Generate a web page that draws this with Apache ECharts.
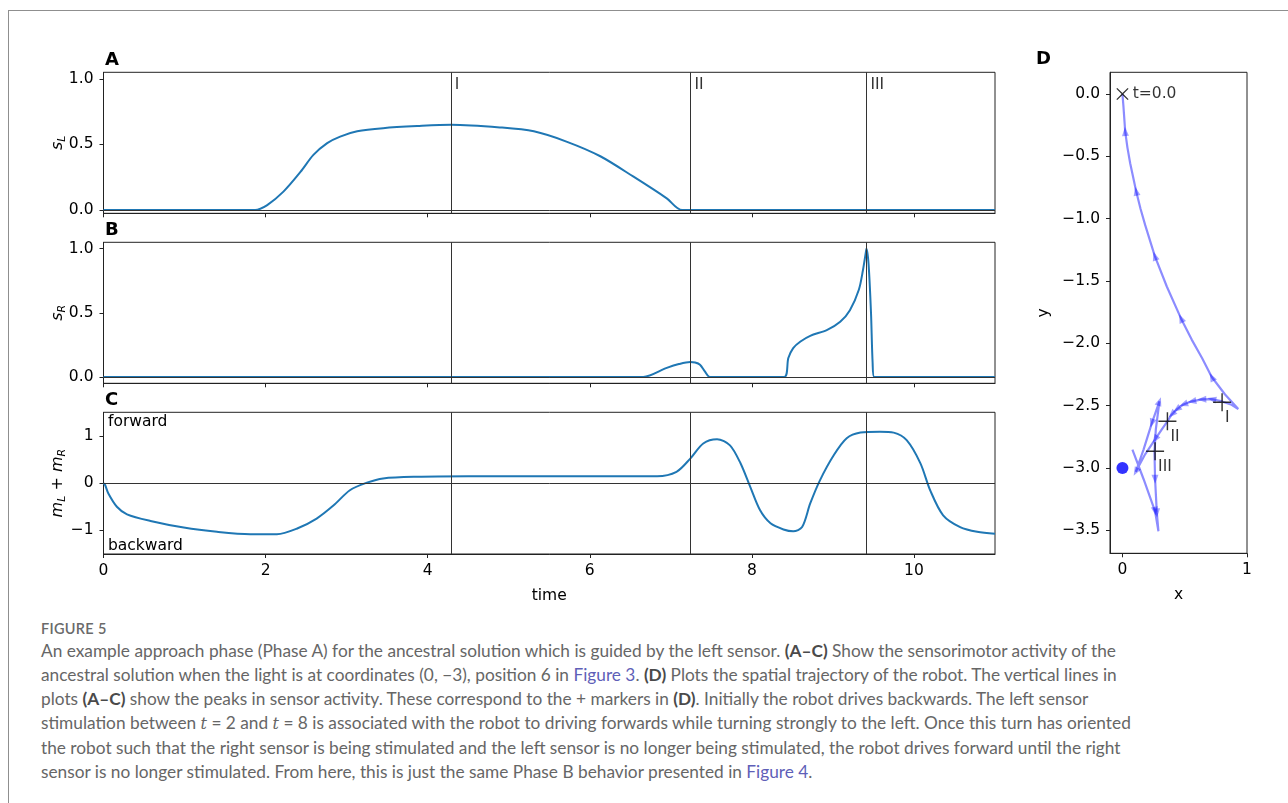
<!DOCTYPE html>
<html>
<head>
<meta charset="utf-8">
<title>Figure 5 – approach phase</title>
<script src="https://cdn.jsdelivr.net/npm/echarts@6/dist/echarts.min.js"></script>
<style>
  html, body { margin: 0; padding: 0; background: #fff; }
  #wrap { position: relative; width: 1288px; height: 803px; overflow: hidden; }
  #frame { position: absolute; left: 8px; top: 10px; width: 1300px; height: 820px;
           border-left: 1.5px solid #8f8f8f; border-top: 1.5px solid #8f8f8f; }
  #chart { position: absolute; left: 0; top: 0; width: 1288px; height: 612px; }
  #caption { position: absolute; left: 41px; top: 618px; font-family: Lato, "Open Sans", sans-serif;
             color: #666; white-space: nowrap; }
  #caption .fig { font-size: 14.5px; line-height: 21px; font-weight: 600; color: #6a6a6a; letter-spacing: 0.3px; }
  #caption .ln { font-size: 17.5px; line-height: 24px; }
  #caption b { color: #4a4a4a; font-weight: 700; }
  #caption .ref { color: #5f5fb8; }
  #caption i { font-family: "DejaVu Serif", serif; font-size: 0.92em; }
</style>
</head>
<body>
<div id="wrap">
  <div id="frame"></div>
  <div id="chart"></div>
  <div id="caption">
    <div class="fig">FIGURE 5</div>
    <div class="ln">An example approach phase (Phase A) for the ancestral solution which is guided by the left sensor. <b>(A–C)</b> Show the sensorimotor activity of the</div>
    <div class="ln">ancestral solution when the light is at coordinates (0, −3), position 6 in <span class="ref">Figure 3</span>. <b>(D)</b> Plots the spatial trajectory of the robot. The vertical lines in</div>
    <div class="ln">plots <b>(A–C)</b> show the peaks in sensor activity. These correspond to the + markers in <b>(D)</b>. Initially the robot drives backwards. The left sensor</div>
    <div class="ln">stimulation between <i>t</i> = 2 and <i>t</i> = 8 is associated with the robot to driving forwards while turning strongly to the left. Once this turn has oriented</div>
    <div class="ln">the robot such that the right sensor is being stimulated and the left sensor is no longer being stimulated, the robot drives forward until the right</div>
    <div class="ln">sensor is no longer stimulated. From here, this is just the same Phase B behavior presented in <span class="ref">Figure 4</span>.</div>
  </div>
</div>
<script>
// ---- sensor / motor time series ----
const timeA = [0, 1.87, 2.02, 2.22, 2.43, 2.59, 2.76, 2.92, 3.13, 3.45, 3.87, 4.29, 4.89, 5.31, 5.72, 6.13, 6.54, 6.95, 7.14, 11];
const leftSensor = [0, 0, 0.038, 0.14, 0.29, 0.42, 0.51, 0.56, 0.60, 0.624, 0.64, 0.65, 0.63, 0.60, 0.52, 0.41, 0.254, 0.089, 0, 0];

const timeB = [0, 6.66, 6.95, 7.10, 7.24, 7.30, 7.36, 7.42, 7.48, 8.40, 8.45, 8.51, 8.60, 8.72, 8.93, 9.09, 9.21, 9.32, 9.37, 9.41, 9.414, 9.44, 9.47, 9.49, 9.51, 11];
const rightSensor = [0, 0, 0.07, 0.10, 0.116, 0.112, 0.095, 0.043, 0, 0, 0.147, 0.225, 0.276, 0.32, 0.367, 0.43, 0.52, 0.68, 0.83, 0.987, 1.0, 0.88, 0.50, 0.11, 0, 0];

const timeC = [0, 0.02, 0.06, 0.165, 0.29, 0.58, 0.99, 1.40, 1.81, 2.14, 2.39, 2.63, 2.84, 3.04, 3.25, 3.45, 3.87, 4.5, 6.83, 7.07, 7.24, 7.40, 7.57, 7.73, 7.86, 7.98, 8.10, 8.23, 8.39, 8.51, 8.62, 8.72, 8.84, 9.01, 9.17, 9.34, 9.58, 9.75, 9.91, 10.08, 10.20, 10.36, 10.57, 10.78, 11.0];
const motorSum = [0, -0.04, -0.22, -0.50, -0.66, -0.80, -0.94, -1.03, -1.08, -1.08, -0.96, -0.75, -0.47, -0.15, 0.01, 0.10, 0.135, 0.145, 0.148, 0.24, 0.52, 0.84, 0.93, 0.80, 0.42, -0.08, -0.57, -0.85, -0.98, -1.02, -0.93, -0.43, 0.06, 0.59, 0.95, 1.07, 1.09, 1.07, 0.91, 0.42, -0.15, -0.68, -0.93, -1.03, -1.07];

// times of the sensor peaks and their names
const peakTimes = [4.286, 7.243, 9.414];
const peakNames = ['I', 'II', 'III'];

// ---- spatial trajectory ----
const trajX = [0, 0.008, 0.022, 0.04, 0.062, 0.11, 0.145, 0.182, 0.26, 0.356, 0.47, 0.556, 0.64, 0.717, 0.824, 0.93,
               0.87, 0.80, 0.717, 0.637, 0.557, 0.49, 0.436, 0.396, 0.361, 0.316, 0.262, 0.182, 0.107,
               0.17, 0.236, 0.297,
               0.268, 0.257, 0.262, 0.276, 0.289,
               0.262, 0.17, 0.08];
const trajY = [0, -0.10, -0.30, -0.43, -0.555, -0.78, -0.92, -1.05, -1.30, -1.544, -1.80, -1.97, -2.12, -2.27, -2.41, -2.527,
               -2.49, -2.466, -2.447, -2.45, -2.465, -2.49, -2.53, -2.57, -2.625, -2.69, -2.77, -2.89, -3.03,
               -2.85, -2.64, -2.466,
               -2.69, -2.866, -3.09, -3.36, -3.507,
               -3.347, -3.09, -2.853];
// heading arrows: trajectory index and drive sign (-1 = driving backwards)
const arrowIdx  = [2, 5, 8, 10, 13, 18, 19, 20, 21, 22, 23, 26, 28, 30, 31, 34, 35, 37];
const arrowSign = [-1, -1, -1, -1, -1, 1, 1, 1, 1, 1, 1, 1, 1, -1, 1, 1, 1, -1];

// light source and peak positions on the trajectory
const lightPos = [0, -3];
const peakX = [0.80, 0.361, 0.262];
const peakY = [-2.473, -2.625, -2.866];

// axis ticks
const timeTicks = [0, 2, 4, 6, 8, 10];
const sensorTicks = [0, 0.5, 1.0];
const motorTicks = [-1, 0, 1];
const trajXTicks = [0, 1];
const trajYTicks = [0, -0.5, -1.0, -1.5, -2.0, -2.5, -3.0, -3.5];

// ---- helpers ----
const FONT = 'DejaVu Sans';
const FS = 15.5;
const BLUE = '#1f77b4';
const TRAJ = 'rgba(0, 0, 255, 0.45)';
const minus = s => String(s).replace('-', '\u2212');
const zip = (a, b) => a.map((v, i) => [v, b[i]]);
const PLUS = 'path://M9.2,0h1.6v9.2h9.2v1.6h-9.2v9.2h-1.6v-9.2h-9.2v-1.6h9.2z';

const mathRich = {
  i: { fontFamily: FONT, fontStyle: 'italic', fontSize: 16, lineHeight: 20, color: '#000' },
  sub: { fontFamily: FONT, fontStyle: 'italic', fontSize: 11, lineHeight: 12, verticalAlign: 'bottom', color: '#000' },
  t: { fontFamily: FONT, fontSize: 16, lineHeight: 20, color: '#000' }
};

function timeAxis(gridIndex, withLabels) {
  return {
    type: 'value', gridIndex, min: 0, max: 11,
    name: withLabels ? 'time' : '', nameLocation: 'middle', nameGap: 34, nameMoveOverlap: false,
    nameTextStyle: { fontFamily: FONT, fontSize: FS, color: '#000' },
    axisLine: { show: true, onZero: false, lineStyle: { color: '#222', width: 1 } },
    axisTick: { show: true, inside: false, length: 4, customValues: timeTicks, lineStyle: { color: '#222' } },
    axisLabel: { show: withLabels, customValues: timeTicks, fontFamily: FONT, fontSize: FS, color: '#000', margin: 9 },
    splitLine: { show: false }
  };
}
function valueAxis(gridIndex, min, max, ticks, fmt, name) {
  return {
    type: 'value', gridIndex, min, max,
    name, nameLocation: 'middle', nameRotate: 90, nameGap: 36, nameMoveOverlap: false,
    nameTextStyle: { rich: mathRich },
    axisLine: { show: true, onZero: false, lineStyle: { color: '#222', width: 1 } },
    axisTick: { show: true, inside: false, length: 4, customValues: ticks, lineStyle: { color: '#222' } },
    axisLabel: { customValues: ticks, formatter: fmt, fontFamily: FONT, fontSize: FS, color: '#000', margin: 10 },
    splitLine: { show: false }
  };
}
function guideLines(withZero) {
  const data = peakTimes.map(t => ({ xAxis: t }));
  if (withZero) data.push({ yAxis: 0 });
  return {
    silent: true, symbol: 'none', label: { show: false }, animation: false,
    lineStyle: { color: '#333', width: 1, type: 'solid' },
    data
  };
}
function traceSeries(idx, xs, ys) {
  return {
    type: 'line', xAxisIndex: idx, yAxisIndex: idx, data: zip(xs, ys),
    showSymbol: false, smooth: 0.3,
    lineStyle: { color: BLUE, width: 2 }, z: 3,
    markLine: guideLines(true)
  };
}

// heading arrows along the trajectory
const arrowData = arrowIdx.map((k, j) => {
  const p = k > 0 ? k - 1 : k, q = k > 0 ? k : k + 1;
  const dx = (trajX[q] - trajX[p]) * arrowSign[j];
  const dy = (trajY[q] - trajY[p]) * arrowSign[j];
  const ang = Math.atan2(dy, dx) * 180 / Math.PI;
  return { value: [trajX[k], trajY[k]], symbolRotate: ang - 90 };
});

const gridBox = { show: true, borderColor: '#222', borderWidth: 1, backgroundColor: 'transparent' };

const option = {
  animation: false,
  textStyle: { fontFamily: FONT },
  grid: [
    Object.assign({ left: 103.5, top: 72.3, width: 891.5, height: 141 }, gridBox),
    Object.assign({ left: 103.5, top: 242.3, width: 891.5, height: 141 }, gridBox),
    Object.assign({ left: 103.5, top: 412.3, width: 891.5, height: 141.7 }, gridBox),
    Object.assign({ left: 1110, top: 72.3, width: 137, height: 481 }, gridBox)
  ],
  xAxis: [
    timeAxis(0, false), timeAxis(1, false), timeAxis(2, true),
    {
      type: 'value', gridIndex: 3, min: -0.1, max: 1.0,
      name: 'x', nameLocation: 'middle', nameGap: 34, nameMoveOverlap: false,
      nameTextStyle: { fontFamily: FONT, fontSize: FS, color: '#000' },
      axisLine: { show: true, onZero: false, lineStyle: { color: '#222' } },
      axisTick: { show: true, length: 4, customValues: trajXTicks, lineStyle: { color: '#222' } },
      axisLabel: { customValues: trajXTicks, fontFamily: FONT, fontSize: FS, color: '#000', margin: 9 },
      splitLine: { show: false }
    }
  ],
  yAxis: [
    valueAxis(0, -0.025, 1.05, sensorTicks, v => v.toFixed(1), '{i|s}{sub|L}'),
    valueAxis(1, -0.05, 1.05, sensorTicks, v => v.toFixed(1), '{i|s}{sub|R}'),
    valueAxis(2, -1.5, 1.5, motorTicks, v => minus(v), '{i|m}{sub|L}{t| + }{i|m}{sub|R}'),
    {
      type: 'value', gridIndex: 3, min: -3.684, max: 0.174,
      name: 'y', nameLocation: 'middle', nameRotate: 90, nameGap: 58, nameMoveOverlap: false,
      nameTextStyle: { fontFamily: FONT, fontSize: FS, color: '#000' },
      axisLine: { show: true, onZero: false, lineStyle: { color: '#222' } },
      axisTick: { show: true, length: 4, customValues: trajYTicks, lineStyle: { color: '#222' } },
      axisLabel: { customValues: trajYTicks, formatter: v => minus(v.toFixed(1)), fontFamily: FONT, fontSize: FS, color: '#000', margin: 10 },
      splitLine: { show: false }
    }
  ],
  series: [
    traceSeries(0, timeA, leftSensor),
    traceSeries(1, timeB, rightSensor),
    traceSeries(2, timeC, motorSum),
    {
      // peak names at the top of panel A
      type: 'scatter', xAxisIndex: 0, yAxisIndex: 0, symbolSize: 0, silent: true,
      data: peakTimes.map((t, i) => ({ value: [t, 0.955], name: peakNames[i] })),
      label: { show: true, position: 'right', distance: 4, formatter: p => p.name,
               fontFamily: FONT, fontSize: FS, color: '#000' }
    },
    {
      type: 'line', xAxisIndex: 3, yAxisIndex: 3, data: zip(trajX, trajY),
      showSymbol: false, lineStyle: { color: TRAJ, width: 2.2 }, z: 2
    },
    {
      type: 'scatter', xAxisIndex: 3, yAxisIndex: 3, data: arrowData,
      symbol: 'triangle', symbolSize: [7, 9], itemStyle: { color: TRAJ }, z: 2
    },
    {
      type: 'scatter', xAxisIndex: 3, yAxisIndex: 3, data: [lightPos],
      symbol: 'circle', symbolSize: 12, itemStyle: { color: '#0000ff' }, z: 4
    },
    {
      type: 'scatter', xAxisIndex: 3, yAxisIndex: 3,
      data: [{ value: [trajX[0], trajY[0]], name: 't=0.0' }],
      symbol: PLUS, symbolSize: 16, symbolRotate: 45, itemStyle: { color: '#000' }, z: 5,
      label: { show: true, position: 'right', distance: -1, formatter: p => p.name,
               fontFamily: FONT, fontSize: FS, color: '#000' }
    },
    {
      type: 'scatter', xAxisIndex: 3, yAxisIndex: 3,
      data: peakX.map((x, i) => ({ value: [x, peakY[i]], name: peakNames[i] })),
      symbol: PLUS, symbolSize: 18, itemStyle: { color: '#000' }, z: 5,
      label: { show: true, position: 'inside', align: 'left', offset: [3, 16], formatter: p => p.name,
               fontFamily: FONT, fontSize: FS, color: '#000' }
    }
  ],
  graphic: [
    { type: 'text', left: 105, top: 51, style: { text: 'A', font: 'bold 18px "DejaVu Sans"', fill: '#000' } },
    { type: 'text', left: 105, top: 221, style: { text: 'B', font: 'bold 18px "DejaVu Sans"', fill: '#000' } },
    { type: 'text', left: 105, top: 391, style: { text: 'C', font: 'bold 18px "DejaVu Sans"', fill: '#000' } },
    { type: 'text', left: 1036, top: 50, style: { text: 'D', font: 'bold 18px "DejaVu Sans"', fill: '#000' } },
    { type: 'text', left: 108, top: 414, style: { text: 'forward', font: FS + 'px "DejaVu Sans"', fill: '#000' } },
    { type: 'text', left: 108, top: 538, style: { text: 'backward', font: FS + 'px "DejaVu Sans"', fill: '#000' } }
  ]
};

const chart = echarts.init(document.getElementById('chart'), null, { renderer: 'canvas' });
chart.setOption(option);

// fit the caption lines to the text column width
(function fitCaption() {
  const lines = document.querySelectorAll('#caption .ln');
  const w = lines[0].getBoundingClientRect().width;
  const size = 17.5 * 1091 / w;
  lines.forEach(el => { el.style.fontSize = size.toFixed(2) + 'px'; });
})();
</script>
</body>
</html>
